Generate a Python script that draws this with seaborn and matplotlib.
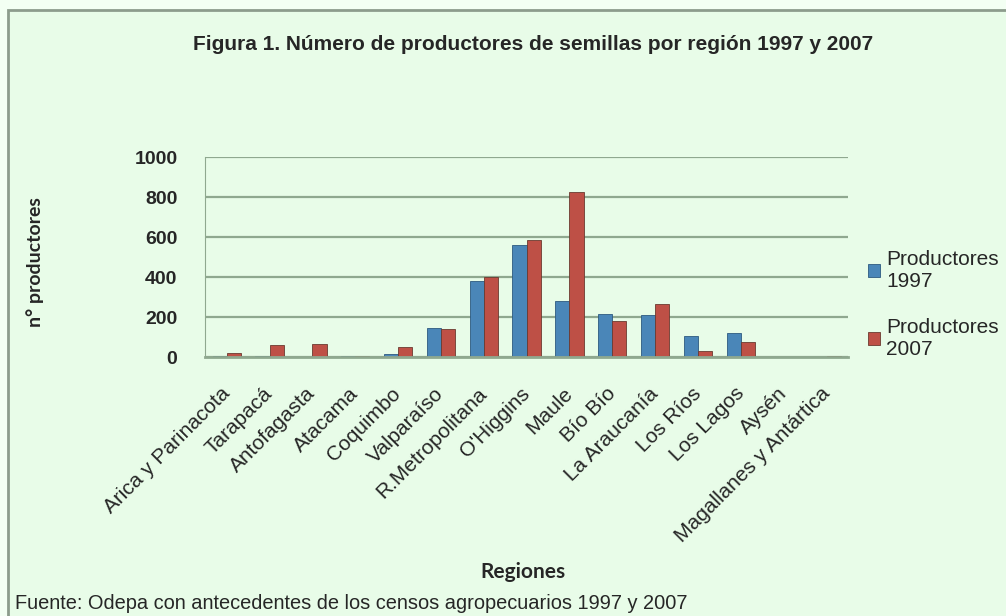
import matplotlib.pyplot as plt
import pandas as pd
import seaborn as sns
from matplotlib.patches import Rectangle

# Datos
regiones = ['Arica y Parinacota', 'Tarapacá', 'Antofagasta', 'Atacama', 'Coquimbo',
            'Valparaíso', 'R.Metropolitana', "O'Higgins", 'Maule', 'Bío Bío',
            'La Araucanía', 'Los Ríos', 'Los Lagos', 'Aysén', 'Magallanes y Antártica']
prod_1997 = [5, 5, 2, 5, 15, 145, 380, 560, 280, 215, 210, 105, 120, 2, 2]
prod_2007 = [20, 60, 65, 5, 50, 140, 400, 585, 825, 180, 265, 30, 75, 2, 5]
series = ['Productores\n1997', 'Productores\n2007']

fondo = '#E8FCE8'
azul = '#4A86B8'
rojo = '#BE5046'
grilla = '#8FA88F'

dados = pd.DataFrame({
    'Región': regiones * 2,
    'Serie': [series[0]] * len(regiones) + [series[1]] * len(regiones),
    'Valor': prod_1997 + prod_2007,
})

sns.set_style('white')
plt.rcParams['font.family'] = ['Liberation Sans', 'DejaVu Sans']

fig = plt.figure(figsize=(10.06, 6.16), dpi=100, facecolor='#F3FFF3')
# marco del grafico (solo bordes superior e izquierdo quedan visibles)
fig.patches.append(Rectangle((0.008, -0.05), 1.05, 1.034, transform=fig.transFigure,
                             facecolor=fondo, edgecolor='#8C9C8C', linewidth=2,
                             zorder=-10))
ax = fig.add_axes([0.204, 0.42, 0.639, 0.325])
ax.set_facecolor(fondo)

sns.barplot(data=dados, x='Región', y='Valor', hue='Serie', palette=[azul, rojo],
            width=0.66, ax=ax, edgecolor='none', saturation=1)
for barra in ax.patches:
    barra.set_edgecolor('#6a3a30' if barra.get_facecolor()[0] > 0.5 else '#2d5a80')
    barra.set_linewidth(0.6)

ax.set_ylim(0, 1000)
ax.set_yticks(range(0, 1001, 200))
ax.set_xlim(-0.5, len(regiones) - 0.5)
ax.yaxis.grid(True, color=grilla, linewidth=1.6)
ax.set_axisbelow(True)
for lado in ['top', 'right']:
    ax.spines[lado].set_visible(False)
ax.spines['left'].set_color(grilla)
ax.spines['bottom'].set_color(grilla)
ax.spines['bottom'].set_linewidth(2)
ax.tick_params(axis='y', length=0, pad=20, labelsize=14)
ax.tick_params(axis='x', length=0, pad=24, labelsize=15)
for t in ax.get_yticklabels():
    t.set_fontweight('bold')
ax.set_xticks(range(len(regiones)))
ax.set_xticklabels(regiones, rotation=45, ha='right', va='center', rotation_mode='anchor')
ax.set_xlabel('')
ax.set_ylabel('')

leg = ax.legend(loc='upper left', bbox_to_anchor=(0.855, 0.608),
                bbox_transform=fig.transFigure, frameon=False, fontsize=15,
                handlelength=0.55, handleheight=0.55, handletextpad=0.3,
                labelspacing=1.3, borderaxespad=0)

fig.text(0.53, 0.927, 'Figura 1. Número de productores de semillas por región 1997 y 2007',
         ha='center', va='center', fontsize=15, fontweight='bold')
fig.text(0.035, 0.575, 'n° productores', rotation=90, ha='center', va='center',
         fontsize=14, fontweight='bold', family=['Lato', 'DejaVu Sans'])
fig.text(0.52, 0.071, 'Regiones', ha='center', va='center', fontsize=15,
         fontweight='bold', family=['Lato', 'DejaVu Sans'])
fig.text(0.015, 0.021, 'Fuente: Odepa con antecedentes de los censos agropecuarios 1997 y 2007',
         ha='left', va='center', fontsize=14.4)

plt.savefig('out.png', dpi=100, facecolor=fig.get_facecolor())
plt.close()
